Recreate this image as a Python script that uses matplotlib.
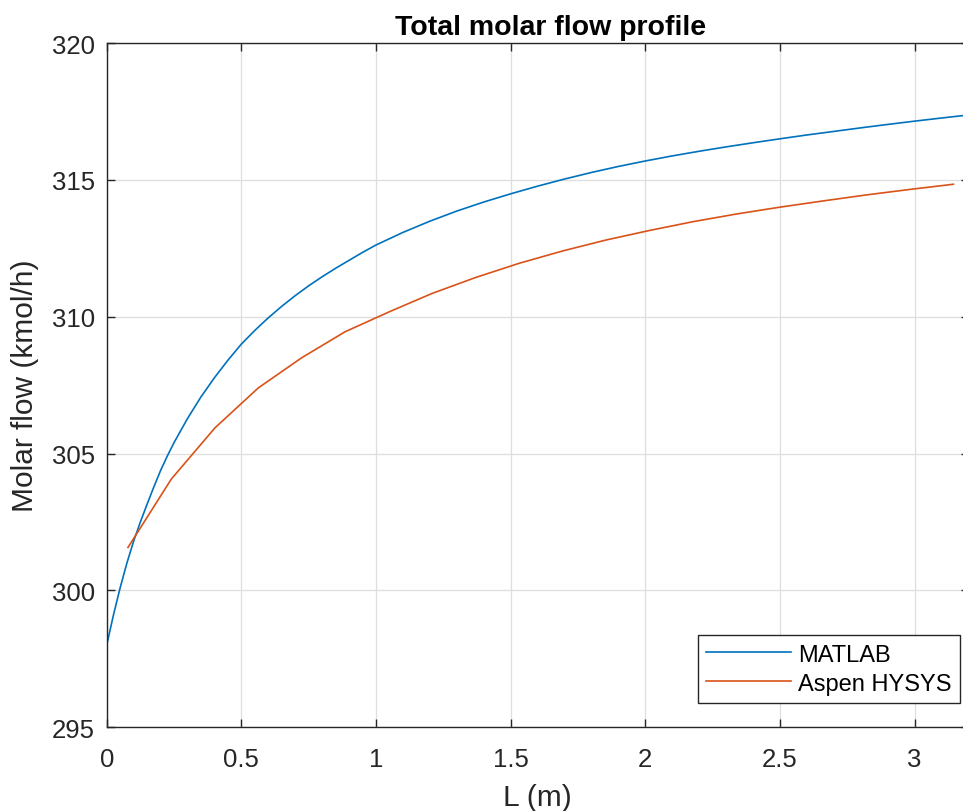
import matplotlib.pyplot as plt

plt.rcParams['font.family'] = ['Liberation Sans', 'DejaVu Sans']

# MATLAB model profile
L_matlab = [0.0, 0.025, 0.05, 0.075, 0.1, 0.125, 0.15, 0.175, 0.2, 0.225, 0.25,
            0.3, 0.35, 0.4, 0.45, 0.5, 0.55, 0.6, 0.65, 0.7, 0.75, 0.8, 0.85,
            0.9, 0.95, 1.0, 1.1, 1.2, 1.3, 1.4, 1.5, 1.6, 1.7, 1.8, 1.9, 2.0,
            2.1, 2.2, 2.3, 2.4, 2.5, 2.6, 2.7, 2.8, 2.9, 3.0, 3.1, 3.2]
F_matlab = [298.0, 299.1, 300.1, 301.0, 301.8, 302.5, 303.15, 303.78, 304.38,
            304.91, 305.4, 306.28, 307.07, 307.77, 308.41, 309.0, 309.5, 309.96,
            310.38, 310.77, 311.13, 311.46, 311.77, 312.06, 312.35, 312.62,
            313.08, 313.49, 313.86, 314.19, 314.49, 314.77, 315.03, 315.27,
            315.49, 315.69, 315.875, 316.045, 316.205, 316.355, 316.5, 316.64,
            316.77, 316.9, 317.025, 317.145, 317.26, 317.37]

# Aspen HYSYS profile
L_hysys = [0.079, 0.240, 0.402, 0.563, 0.724, 0.885, 1.047, 1.208, 1.369, 1.531,
           1.692, 1.853, 2.015, 2.176, 2.337, 2.498, 2.660, 2.821, 2.982, 3.144]
F_hysys = [301.57, 304.07, 305.94, 307.40, 308.5, 309.45, 310.17, 310.85, 311.43,
           311.95, 312.40, 312.80, 313.15, 313.47, 313.75, 314.0, 314.23, 314.45,
           314.65, 314.84]

W, H = 963, 812
fig = plt.figure(figsize=(W / 100, H / 100), dpi=100)
# eixo vai além da borda direita (imagem original cortada)
x0, x1 = 106.7, 968.5
y0, y1 = 44, 728.3
ax = fig.add_axes([x0 / W, 1 - y1 / H, (x1 - x0) / W, (y1 - y0) / H])

ax.plot(L_matlab, F_matlab, color='#0072BD', lw=1.2, label='MATLAB')
ax.plot(L_hysys, F_hysys, color='#D95319', lw=1.2, label='Aspen HYSYS')

ax.set_xlim(0, 3.2)
ax.set_ylim(295, 320)
ax.set_xticks([0, 0.5, 1, 1.5, 2, 2.5, 3])
ax.set_xticklabels(['0', '0.5', '1', '1.5', '2', '2.5', '3'])
ax.set_yticks([295, 300, 305, 310, 315, 320])

ax.grid(True, color='#dedede', lw=0.9)
ax.set_axisbelow(True)
for s in ax.spines.values():
    s.set_color('#262626')
    s.set_linewidth(1.0)
ax.tick_params(direction='in', length=6, width=1.0, colors='#262626',
               labelsize=18.5, top=True, right=True)
ax.tick_params(axis='x', pad=14)
ax.tick_params(axis='y', pad=8.5)

ax.set_xlabel('L (m)', fontsize=21.5, color='#262626', labelpad=8.5)
ax.set_ylabel('Molar flow (kmol/h)', fontsize=21.5, color='#262626', labelpad=9)
ax.set_title('Total molar flow profile', fontsize=20.5, fontweight='bold',
             pad=6.5, x=0.515)

leg = ax.legend(loc='lower right', bbox_to_anchor=(960 / W, 1 - 704 / H),
                bbox_transform=fig.transFigure, fontsize=17, fancybox=False,
                framealpha=1, edgecolor='#262626', handlelength=3.6,
                borderpad=0.35, labelspacing=0.3, handletextpad=0.3,
                borderaxespad=0)
leg.get_frame().set_linewidth(1.0)

fig.savefig('out.png', dpi=100)
